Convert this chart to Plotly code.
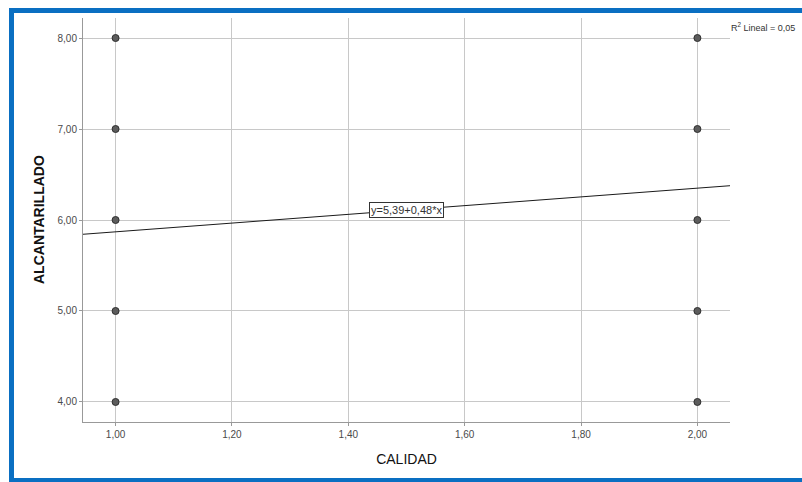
import plotly.graph_objects as go

# Data
calidad = [1, 1, 1, 1, 1, 2, 2, 2, 2, 2]
alcantarillado = [8, 7, 6, 5, 4, 8, 7, 6, 5, 4]
intercept = 5.39
slope = 0.48
r2 = 0.05
x_ticks = [1.0, 1.2, 1.4, 1.6, 1.8, 2.0]
y_ticks = [4, 5, 6, 7, 8]

x_range = [0.944, 2.056]
y_range = [3.78, 8.22]

W, H = 802, 482
L, R, T, B = 83, 72, 18, 60
pw, ph = W - L - R, H - T - B


def px_to_paper_x(px):
    return (px - L) / pw


def py_to_paper_y(py):
    return (H - B - py) / ph


fig = go.Figure()

# regression line across full x-range
fig.add_trace(go.Scatter(
    x=x_range,
    y=[intercept + slope * v for v in x_range],
    mode="lines",
    line=dict(color="#1a1a1a", width=1),
    hoverinfo="skip",
    showlegend=False,
))

fig.add_trace(go.Scatter(
    x=calidad, y=alcantarillado,
    mode="markers",
    marker=dict(size=7, color="#5c5c5c", line=dict(color="#2e2e2e", width=1)),
    showlegend=False,
))

tick_font = dict(family="Liberation Sans Narrow, Arial Narrow, Liberation Sans, Arial", size=10, color="#4a4a4a")

fig.update_xaxes(
    range=x_range, tickvals=x_ticks, tickformat=".2f",
    showgrid=True, gridcolor="#c8c8c8", gridwidth=1,
    showline=True, linecolor="#999999", linewidth=1,
    ticks="outside", ticklen=3, tickcolor="#999999",
    zeroline=False, tickfont=tick_font,
    title=dict(text="CALIDAD", font=dict(family="Liberation Sans, Arial", size=14, color="#111111")),
)
fig.update_yaxes(
    range=y_range, tickvals=y_ticks, tickformat=".2f",
    showgrid=True, gridcolor="#c8c8c8", gridwidth=1,
    showline=True, linecolor="#999999", linewidth=1,
    ticks="outside", ticklen=3, tickcolor="#999999",
    zeroline=False, tickfont=tick_font,
)

# y-axis title
fig.add_annotation(
    x=px_to_paper_x(39), y=py_to_paper_y(220), xref="paper", yref="paper",
    xanchor="center", yanchor="middle", textangle=-90,
    text="<b>ALCANTARILLADO</b>", showarrow=False,
    font=dict(family="Liberation Sans, Arial", size=14, color="#111111"),
)

# equation label on the line
xm = (x_ticks[0] + x_ticks[-1]) / 2
fig.add_annotation(
    x=xm, y=intercept + slope * xm, xref="x", yref="y",
    text="y=5,39+0,48*x", showarrow=False,
    font=dict(family="Liberation Sans Narrow, Arial Narrow, Liberation Sans", size=11, color="#333333"),
    bgcolor="white", bordercolor="#333333", borderwidth=1, borderpad=1,
)

# R² label
fig.add_annotation(
    x=px_to_paper_x(729), y=py_to_paper_y(27), xref="paper", yref="paper",
    xanchor="left", yanchor="middle",
    text="R<sup>2</sup> Lineal = 0,05", showarrow=False,
    font=dict(family="Liberation Sans Narrow, Arial Narrow, Liberation Sans", size=9, color="#333333"),
)

# blue frame around the chart
fig.add_shape(
    type="rect", xref="paper", yref="paper",
    x0=px_to_paper_x(11.5), x1=px_to_paper_x(815),
    y0=py_to_paper_y(480.5), y1=py_to_paper_y(10.5),
    line=dict(color="#0a6fc2", width=5), fillcolor="rgba(0,0,0,0)", layer="above",
)

fig.update_layout(
    width=W, height=H,
    margin=dict(l=L, r=R, t=T, b=B),
    paper_bgcolor="white", plot_bgcolor="white",
    separators=",.",
    showlegend=False,
)

fig.write_html("out.html")
